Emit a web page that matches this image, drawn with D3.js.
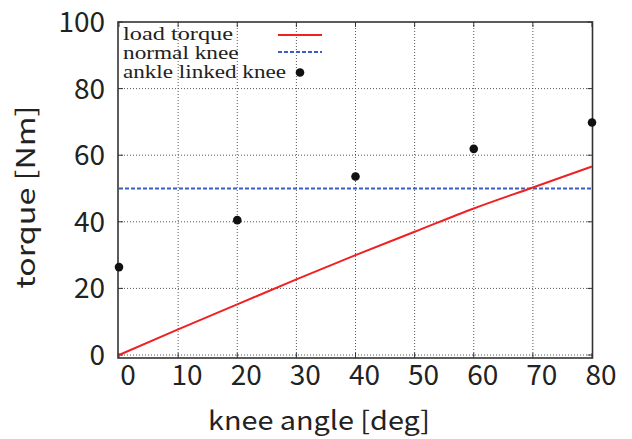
<!DOCTYPE html>
<html>
<head>
<meta charset="utf-8">
<title>knee torque</title>
<script src="https://d3js.org/d3.v7.min.js"></script>
<style>
  body { margin: 0; background: #fff; }
</style>
</head>
<body>
<div id="chart"></div>
<script>
// data
let angles = [0, 10, 20, 30, 40, 50, 60, 70, 80];
let loadTorque = [0, 7.7, 15.2, 22.7, 30, 37, 44, 50.3, 56.6];
let normalKnee = 50;
let linkedAngles = [0, 20, 40, 60, 80];
let linkedTorque = [26.4, 40.5, 53.6, 61.9, 69.8];
let xTicks = [0, 10, 20, 30, 40, 50, 60, 70, 80];
let yTicks = [0, 20, 40, 60, 80, 100];
let legendLabels = ["load torque", "normal knee", "ankle linked knee"];

let W = 632, H = 439;
let frame = {left: 118, right: 592.5, top: 22, bottom: 358};

let svg = d3.select("#chart").append("svg")
    .attr("width", W).attr("height", H);

let x = d3.scaleLinear().domain([0, 80]).range([119, 592]);
let y = d3.scaleLinear().domain([0, 100]).range([355, 22]);

let sans = "'Noto Sans CJK JP', 'Noto Sans', sans-serif";
let serif = "'Liberation Serif', 'DejaVu Serif', serif";

// grid
let grid = svg.append("g")
    .attr("stroke", "#555").attr("stroke-width", 1)
    .attr("stroke-dasharray", "1,2");
grid.selectAll("line.gx")
    .data(xTicks.filter(d => d > 0 && d < 80))
    .enter().append("line")
    .attr("x1", d => x(d)).attr("x2", d => x(d))
    .attr("y1", frame.top).attr("y2", frame.bottom);
grid.selectAll("line.gy")
    .data(yTicks.filter(d => d < 100))
    .enter().append("line")
    .attr("y1", d => y(d)).attr("y2", d => y(d))
    .attr("x1", frame.left).attr("x2", frame.right);

// mirrored inward ticks
let ticks = svg.append("g").attr("stroke", "#333").attr("stroke-width", 1);
xTicks.forEach(function(d) {
    ticks.append("line").attr("x1", x(d)).attr("x2", x(d))
        .attr("y1", frame.bottom).attr("y2", frame.bottom - 5);
    ticks.append("line").attr("x1", x(d)).attr("x2", x(d))
        .attr("y1", frame.top).attr("y2", frame.top + 5);
});
yTicks.forEach(function(d) {
    ticks.append("line").attr("y1", y(d)).attr("y2", y(d))
        .attr("x1", frame.left).attr("x2", frame.left + 5);
    ticks.append("line").attr("y1", y(d)).attr("y2", y(d))
        .attr("x1", frame.right).attr("x2", frame.right - 5);
});

// frame
svg.append("rect")
    .attr("x", frame.left).attr("y", frame.top)
    .attr("width", frame.right - frame.left)
    .attr("height", frame.bottom - frame.top)
    .attr("fill", "none").attr("stroke", "#333").attr("stroke-width", 1.6);

// tick labels
svg.append("g").selectAll("text")
    .data(xTicks).enter().append("text")
    .attr("x", d => x(d) + 9).attr("y", 385)
    .attr("text-anchor", "middle")
    .attr("font-family", sans).attr("font-size", "28px").attr("fill", "#222")
    .text(d => d);

svg.append("g").selectAll("text")
    .data(yTicks).enter().append("text")
    .attr("x", 105).attr("y", d => y(d) + 10)
    .attr("text-anchor", "end")
    .attr("font-family", sans).attr("font-size", "28px").attr("fill", "#222")
    .text(d => d);

// axis titles
svg.append("text")
    .attr("x", 319).attr("y", 430)
    .attr("text-anchor", "middle")
    .attr("font-family", sans).attr("font-size", "26px").attr("fill", "#222")
    .attr("textLength", 222).attr("lengthAdjust", "spacingAndGlyphs")
    .text("knee angle [deg]");

svg.append("text")
    .attr("transform", "translate(35,197) rotate(-90)")
    .attr("text-anchor", "middle")
    .attr("font-family", sans).attr("font-size", "26px").attr("fill", "#222")
    .attr("textLength", 183).attr("lengthAdjust", "spacingAndGlyphs")
    .text("torque [Nm]");

// series
let line = d3.line()
    .x((d, i) => x(angles[i]))
    .y(d => y(d))
    .curve(d3.curveMonotoneX);

svg.append("line")
    .attr("x1", x(0)).attr("x2", x(80))
    .attr("y1", y(normalKnee)).attr("y2", y(normalKnee))
    .attr("stroke", "#3a5fc0").attr("stroke-width", 2)
    .attr("stroke-dasharray", "4,2");

svg.append("path")
    .datum(loadTorque)
    .attr("d", line)
    .attr("fill", "none").attr("stroke", "#ee2222").attr("stroke-width", 2);

svg.append("g").selectAll("circle")
    .data(linkedTorque).enter().append("circle")
    .attr("cx", (d, i) => x(linkedAngles[i]))
    .attr("cy", d => y(d))
    .attr("r", 4.3).attr("fill", "#111");

// legend
let legendWidths = [110, 115.6, 163];
let leg = svg.append("g");
legendLabels.forEach(function(t, i) {
    leg.append("text")
        .attr("x", 123).attr("y", 39.5 + i * 19)
        .attr("font-family", serif).attr("font-size", "19px").attr("fill", "#222")
        .attr("textLength", legendWidths[i]).attr("lengthAdjust", "spacingAndGlyphs")
        .text(t);
});
leg.append("line")
    .attr("x1", 278).attr("x2", 322).attr("y1", 35).attr("y2", 35)
    .attr("stroke", "#ee2222").attr("stroke-width", 2);
leg.append("line")
    .attr("x1", 278).attr("x2", 322).attr("y1", 52).attr("y2", 52)
    .attr("stroke", "#3a5fc0").attr("stroke-width", 2)
    .attr("stroke-dasharray", "4,2");
leg.append("circle")
    .attr("cx", 300).attr("cy", 72.5).attr("r", 4.3).attr("fill", "#111");
</script>
</body>
</html>
